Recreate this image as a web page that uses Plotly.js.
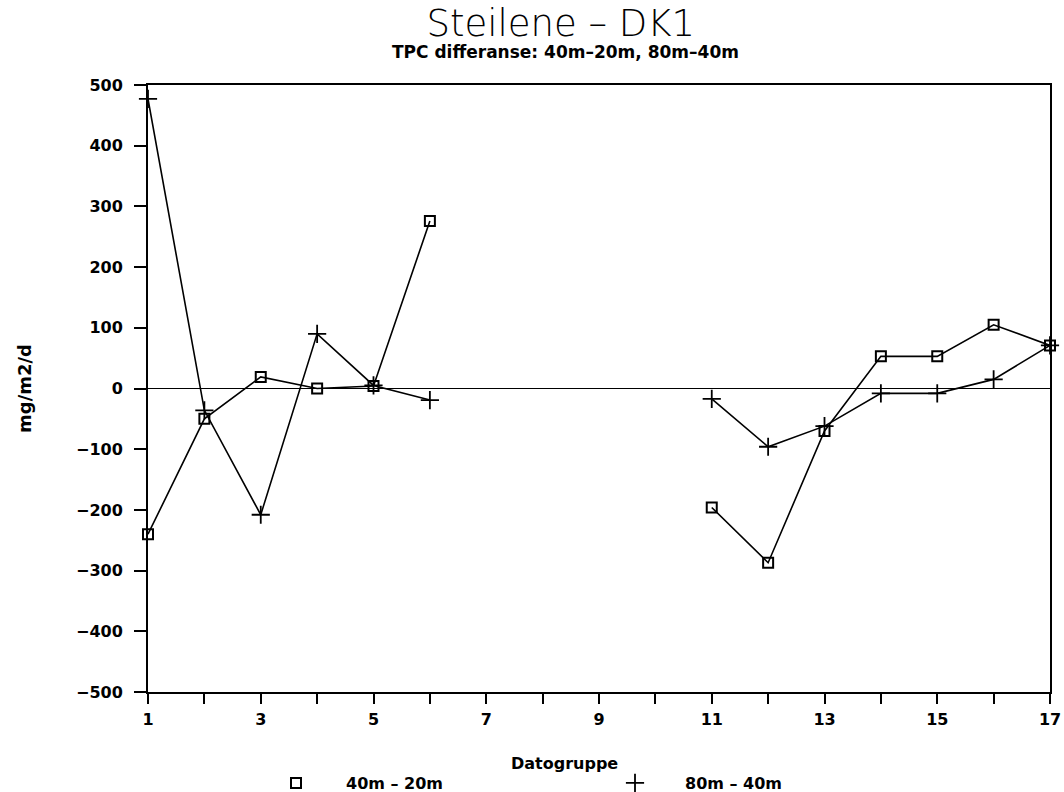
<!DOCTYPE html>
<html><head><meta charset="utf-8">
<script src="https://cdn.plot.ly/plotly-3.0.1.min.js"></script>
<style>html,body{margin:0;padding:0;background:#fff}</style>
</head><body><div id="chart" style="width:1064px;height:792px"></div>
<script>
const groups = [1,2,3,4,5,6,7,8,9,10,11,12,13,14,15,16,17];
const diff40_20 = [-240,-50,19,0,4,276,null,null,null,null,-196,-287,-70,53,53,105,71];
const diff80_40 = [477,-36,-208,90,5,-19,null,null,null,null,-17,-96,-62,-8,-8,15,71];
const xTickText = ['1','','3','','5','','7','','9','','11','','13','','15','','17'];
const yTickVals = [-500,-400,-300,-200,-100,0,100,200,300,400,500];
const seriesNames = ['40m – 20m','80m – 40m'];
const titleText = 'Steilene – DK1';
const subtitleText = 'TPC differanse: 40m–20m, 80m–40m';
const xTitle = 'Datogruppe';
const yTitle = 'mg/m2/d';

const boldFont = {family:'DejaVu Sans', size:16, color:'#000', weight:'bold'};

const traces = [
  {x:groups, y:diff40_20, mode:'lines', line:{color:'#000', width:1.6}, showlegend:false, connectgaps:false, cliponaxis:false, hoverinfo:'skip'},
  {x:groups, y:diff80_40, mode:'lines', line:{color:'#000', width:1.6}, showlegend:false, connectgaps:false, cliponaxis:false, hoverinfo:'skip'},
  {x:groups, y:diff40_20, mode:'markers', name:seriesNames[0], cliponaxis:false,
   marker:{symbol:'square-open', size:10, color:'#000', line:{width:2, color:'#000'}}},
  {x:groups, y:diff80_40, mode:'markers', name:seriesNames[1], cliponaxis:false,
   marker:{symbol:'cross-thin-open', size:13, color:'#000', line:{width:1.8, color:'#000'}}}
];

const layout = {
  width:1064, height:792,
  margin:{l:148, r:14, t:85, b:100, autoexpand:false},
  paper_bgcolor:'#fff', plot_bgcolor:'#fff',
  title:{text:titleText, x:0.527, xanchor:'center', xref:'container', y:1-23/792, yanchor:'middle', yref:'container',
         font:{family:'DejaVu Sans', size:37, color:'#000', weight:200}},
  xaxis:{range:[1,17], tickmode:'array', tickvals:groups, ticktext:xTickText,
         showgrid:false, zeroline:false, showline:true, mirror:true, linecolor:'#000', linewidth:2,
         ticks:'outside', ticklen:10, tickwidth:2, tickcolor:'#000', ticklabelstandoff:2,
         tickfont:boldFont},
  yaxis:{range:[-500,500], tickmode:'array', tickvals:yTickVals,
         showgrid:false, zeroline:true, zerolinecolor:'#000', zerolinewidth:1.6,
         showline:true, mirror:true, linecolor:'#000', linewidth:2,
         ticks:'outside', ticklen:12, tickwidth:2, tickcolor:'#000', ticklabelstandoff:8,
         tickfont:boldFont,
         title:{text:yTitle, font:{family:'DejaVu Sans', size:18, color:'#000', weight:'bold'}, standoff:40}},
  showlegend:true,
  legend:{orientation:'h', x:(246-148)/902, xanchor:'left', y:(692-783)/607, yanchor:'middle',
          entrywidth:234, entrywidthmode:'pixels', itemwidth:90,
          font:{family:'DejaVu Sans', size:16, color:'#000', weight:'bold'}, bgcolor:'rgba(0,0,0,0)'},
  annotations:[
    {text:subtitleText, xref:'paper', yref:'paper', x:(565-148)/902, y:1+(85-52)/607, xanchor:'center', yanchor:'middle', showarrow:false,
     font:{family:'DejaVu Sans', size:17, color:'#000', weight:'bold'}},
    {text:xTitle, xref:'paper', yref:'paper', x:(564-148)/902, y:(692-763)/607, xanchor:'center', yanchor:'middle', showarrow:false,
     font:boldFont}
  ]
};

Plotly.newPlot('chart', traces, layout, {displayModeBar:false, staticPlot:true});
</script></body></html>
